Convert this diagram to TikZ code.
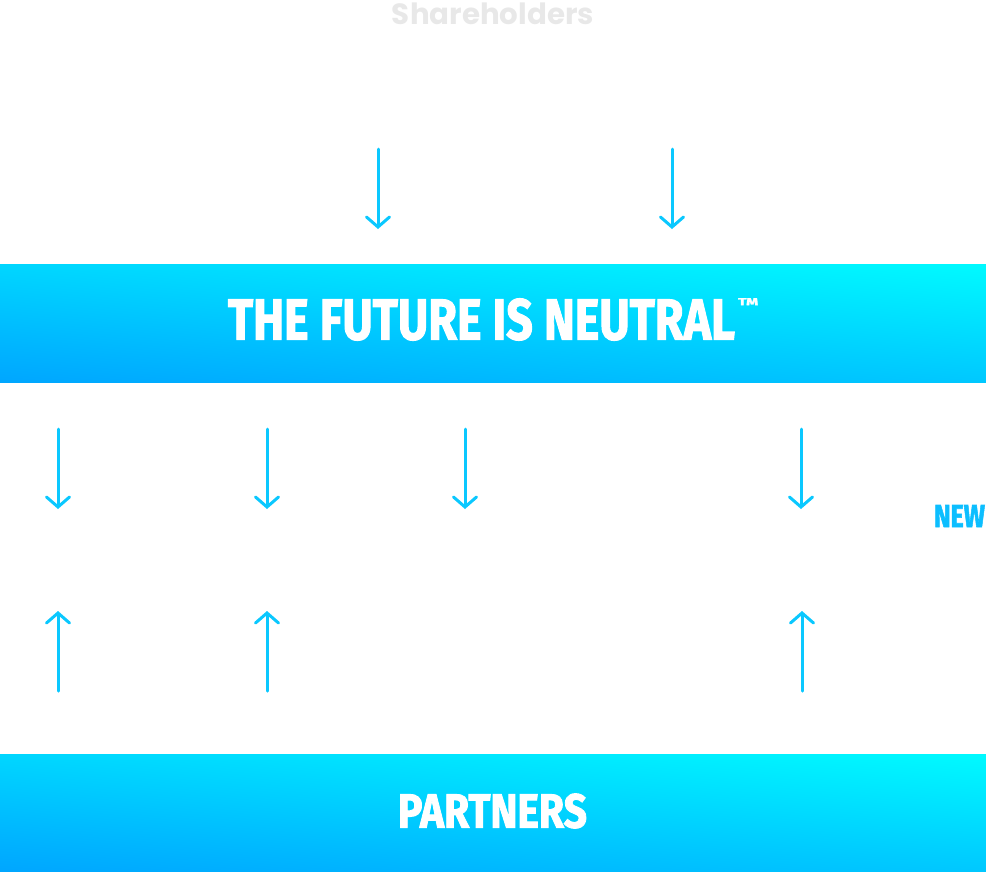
\documentclass[tikz,border=0pt]{standalone}
\usepackage{fontspec}
\usepackage{graphicx}
\usetikzlibrary{arrows.meta,shadings}
\newfontfamily\condfont{Fira Sans}[BoldFeatures={FakeBold=2}]
\newfontfamily\popfont{Poppins}
\definecolor{arrowcol}{HTML}{0AC8FF}
\definecolor{shgray}{HTML}{E8E8E8}
\definecolor{newcol}{HTML}{0CBEFF}
\definecolor{gUL}{HTML}{00D6FF}
\definecolor{gUR}{HTML}{00FAFF}
\definecolor{gLL}{HTML}{00A6FF}
\definecolor{gLR}{HTML}{00C8FF}
\tikzset{
  banner/.style={rectangle, inner sep=0pt, minimum width=986pt, anchor=north west,
    upper left=gUL, upper right=gUR, lower left=gLL, lower right=gLR},
  flowarrow/.style={draw=arrowcol, line width=3pt, line cap=round,
    -{Straight Barb[length=10pt,width=23pt,line cap=round]}},
  bannertext/.style={text=white, inner sep=0pt},
}
\begin{document}
\begin{tikzpicture}[x=1pt,y=-1pt]
\useasboundingbox (0,0) rectangle (986,871);
% banners
\node[banner, minimum height=118pt] (future) at (0,264) {};
\node[banner, minimum height=117pt] (partners) at (0,754) {};
% texts
\node[inner sep=0pt, text=shgray] (share) at (493,14) {\resizebox{202pt}{!}{\popfont\bfseries Shareholders}};
\node[bannertext] (futuretext) at (481.5,319.5) {\resizebox{507pt}{41pt}{\condfont\bfseries THE FUTURE IS NEUTRAL}};
\node[bannertext, anchor=north west] (tm) at (738,298) {\resizebox{20pt}{7pt}{\condfont\bfseries TM}};
\node[bannertext] (partnerstext) at (492.5,811) {\resizebox{189pt}{34pt}{\condfont\bfseries PARTNERS}};
\node[inner sep=0pt, text=newcol] (new) at (959.5,516) {\resizebox{51pt}{22pt}{\condfont\bfseries NEW}};
% top arrows
\coordinate (t1s) at (378,149); \coordinate (t1e) at (378,229);
\coordinate (t2s) at (672,149); \coordinate (t2e) at (672,229);
\draw[flowarrow] (t1s) -- (t1e);
\draw[flowarrow] (t2s) -- (t2e);
% middle down arrows
\foreach \i/\x in {1/58,2/267,3/465,4/801}{
  \coordinate (d\i s) at (\x,429); \coordinate (d\i e) at (\x,509);
  \draw[flowarrow] (d\i s) -- (d\i e);
}
% up arrows
\foreach \i/\x in {1/58,2/267,3/802}{
  \coordinate (u\i s) at (\x,691); \coordinate (u\i e) at (\x,611);
  \draw[flowarrow] (u\i s) -- (u\i e);
}
\end{tikzpicture}
\end{document}
